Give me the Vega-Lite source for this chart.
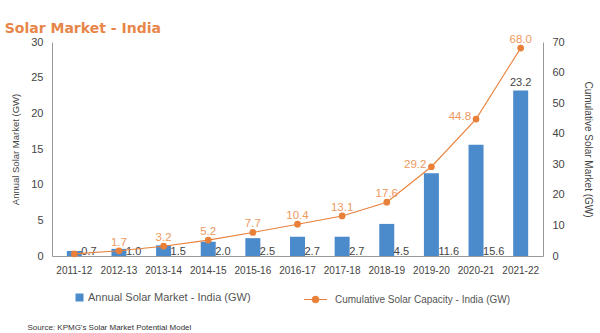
{
  "$schema": "https://vega.github.io/schema/vega-lite/v6.json",
  "width": 491,
  "height": 214,
  "autosize": {"type": "none"},
  "padding": {"left": 52, "top": 42, "right": 57, "bottom": 77},
  "background": "white",
  "title": {
    "text": "Solar Market - India",
    "anchor": "start",
    "frame": "bounds",
    "color": "#E8864A",
    "font": "DejaVu Sans",
    "fontWeight": "bold",
    "fontSize": 14,
    "offset": -2,
    "dx": -6
  },
  "data": {
    "values": [
      {"year": "2011-12", "annual": 0.7, "cumulative": 0.7},
      {"year": "2012-13", "annual": 1.0, "cumulative": 1.7},
      {"year": "2013-14", "annual": 1.5, "cumulative": 3.2},
      {"year": "2014-15", "annual": 2.0, "cumulative": 5.2},
      {"year": "2015-16", "annual": 2.5, "cumulative": 7.7},
      {"year": "2016-17", "annual": 2.7, "cumulative": 10.4},
      {"year": "2017-18", "annual": 2.7, "cumulative": 13.1},
      {"year": "2018-19", "annual": 4.5, "cumulative": 17.6},
      {"year": "2019-20", "annual": 11.6, "cumulative": 29.2},
      {"year": "2020-21", "annual": 15.6, "cumulative": 44.8},
      {"year": "2021-22", "annual": 23.2, "cumulative": 68.0}
    ]
  },
  "encoding": {
    "x": {
      "field": "year",
      "type": "ordinal",
      "scale": {"paddingInner": 0.664, "paddingOuter": 0.332},
      "axis": {
        "title": "Source: KPMG's Solar Market Potential Model",
        "titleX": -25,
        "titleY": 71,
        "titleAlign": "left",
        "titleAnchor": "start",
        "titleBaseline": "middle",
        "titleFontSize": 8,
        "titleFontWeight": "normal",
        "titleColor": "#333",
        "labelAngle": 0,
        "labelPadding": 9,
        "labelFontSize": 10,
        "labelColor": "#444",
        "ticks": false,
        "domainColor": "#999"
      }
    }
  },
  "layer": [
    {
      "layer": [
        {
          "mark": {"type": "bar"},
          "encoding": {
            "y": {
              "field": "annual",
              "type": "quantitative",
              "scale": {"domain": [0, 30], "nice": false},
              "axis": {
                "title": "Annual Solar Market (GW)",
                "values": [0, 5, 10, 15, 20, 25, 30],
                "labelOverlap": false,
                "grid": false,
                "ticks": false,
                "labelPadding": 9,
                "labelFontSize": 11,
                "labelColor": "#444",
                "titleFontSize": 9.5,
                "titleFontWeight": "normal",
                "titleColor": "#444",
                "titlePadding": 10,
                "domainColor": "#999"
              }
            },
            "fill": {
              "datum": "Annual Solar Market - India (GW)",
              "type": "nominal",
              "scale": {"range": ["#4B8BCB"]},
              "legend": {
                "orient": "none",
                "legendX": 22,
                "legendY": 250,
                "title": null,
                "symbolType": "square",
                "symbolSize": 64,
                "symbolStrokeWidth": 0,
                "labelFontSize": 11,
                "labelColor": "#555",
                "labelOffset": 3,
                "labelLimit": 0
              }
            }
          }
        },
        {
          "transform": [{"filter": "datum.year != '2021-22'"}],
          "mark": {"type": "text", "align": "left", "baseline": "alphabetic", "dx": 7, "dy": -1, "fontSize": 11, "color": "#444"},
          "encoding": {
            "y": {
              "datum": 0,
              "type": "quantitative",
              "axis": {
                "title": "Annual Solar Market (GW)",
                "values": [0, 5, 10, 15, 20, 25, 30],
                "labelOverlap": false,
                "grid": false,
                "ticks": false,
                "labelPadding": 9,
                "labelFontSize": 11,
                "labelColor": "#444",
                "titleFontSize": 9.5,
                "titleFontWeight": "normal",
                "titleColor": "#444",
                "titlePadding": 10,
                "domainColor": "#999"
              }
            },
            "text": {"field": "annual", "type": "quantitative", "format": ".1f"}
          }
        },
        {
          "transform": [{"filter": "datum.year == '2021-22'"}],
          "mark": {"type": "text", "align": "center", "baseline": "bottom", "dy": -3, "fontSize": 11, "color": "#444"},
          "encoding": {
            "y": {
              "field": "annual",
              "type": "quantitative",
              "axis": {
                "title": "Annual Solar Market (GW)",
                "values": [0, 5, 10, 15, 20, 25, 30],
                "labelOverlap": false,
                "grid": false,
                "ticks": false,
                "labelPadding": 9,
                "labelFontSize": 11,
                "labelColor": "#444",
                "titleFontSize": 9.5,
                "titleFontWeight": "normal",
                "titleColor": "#444",
                "titlePadding": 10,
                "domainColor": "#999"
              }
            },
            "text": {"field": "annual", "type": "quantitative", "format": ".1f"}
          }
        }
      ]
    },
    {
      "layer": [
        {
          "mark": {"type": "line", "strokeWidth": 1.1},
          "encoding": {
            "y": {
              "field": "cumulative",
              "type": "quantitative",
              "scale": {"domain": [0, 70], "nice": false},
              "axis": {
                "orient": "right",
                "title": "Cumulative Solar Market (GW)",
                "values": [0, 10, 20, 30, 40, 50, 60, 70],
                "labelOverlap": false,
                "grid": false,
                "ticks": false,
                "labelPadding": 9,
                "labelFontSize": 11,
                "labelColor": "#444",
                "titleFontSize": 10,
                "titleFontWeight": "normal",
                "titleColor": "#444",
                "titlePadding": 18,
                "domainColor": "#999"
              }
            },
            "stroke": {
              "datum": "Cumulative Solar Capacity - India (GW)",
              "type": "nominal",
              "scale": {"range": ["#E8803A"]},
              "legend": {
                "orient": "none",
                "legendX": 251,
                "legendY": 245,
                "title": null,
                "symbolType": "M-1,0L1,0M-0.28,0A0.28,0.28 0 1,0 0.28,0A0.28,0.28 0 1,0 -0.28,0",
                "symbolSize": 529,
                "symbolFillColor": "#E8803A",
                "symbolStrokeWidth": 1.2,
                "labelFontSize": 10,
                "labelColor": "#555",
                "labelOffset": 7,
                "labelLimit": 0
              }
            }
          }
        },
        {
          "mark": {"type": "point", "filled": true, "size": 45, "color": "#E8803A", "opacity": 1},
          "encoding": {
            "y": {
              "field": "cumulative",
              "type": "quantitative",
              "axis": {
                "orient": "right",
                "title": "Cumulative Solar Market (GW)",
                "values": [0, 10, 20, 30, 40, 50, 60, 70],
                "labelOverlap": false,
                "grid": false,
                "ticks": false,
                "labelPadding": 9,
                "labelFontSize": 11,
                "labelColor": "#444",
                "titleFontSize": 10,
                "titleFontWeight": "normal",
                "titleColor": "#444",
                "titlePadding": 18,
                "domainColor": "#999"
              }
            }
          }
        },
        {
          "transform": [{"filter": "datum.year != '2011-12' && datum.year != '2019-20' && datum.year != '2020-21'"}],
          "mark": {"type": "text", "align": "center", "baseline": "bottom", "dy": -3, "fontSize": 11.5, "color": "#EE9860"},
          "encoding": {
            "y": {
              "field": "cumulative",
              "type": "quantitative",
              "axis": {
                "orient": "right",
                "title": "Cumulative Solar Market (GW)",
                "values": [0, 10, 20, 30, 40, 50, 60, 70],
                "labelOverlap": false,
                "grid": false,
                "ticks": false,
                "labelPadding": 9,
                "labelFontSize": 11,
                "labelColor": "#444",
                "titleFontSize": 10,
                "titleFontWeight": "normal",
                "titleColor": "#444",
                "titlePadding": 18,
                "domainColor": "#999"
              }
            },
            "text": {"field": "cumulative", "type": "quantitative", "format": ".1f"}
          }
        },
        {
          "transform": [{"filter": "datum.year == '2019-20' || datum.year == '2020-21'"}],
          "mark": {"type": "text", "align": "right", "baseline": "middle", "dx": -5, "dy": -2, "fontSize": 11.5, "color": "#EE9860"},
          "encoding": {
            "y": {
              "field": "cumulative",
              "type": "quantitative",
              "axis": {
                "orient": "right",
                "title": "Cumulative Solar Market (GW)",
                "values": [0, 10, 20, 30, 40, 50, 60, 70],
                "labelOverlap": false,
                "grid": false,
                "ticks": false,
                "labelPadding": 9,
                "labelFontSize": 11,
                "labelColor": "#444",
                "titleFontSize": 10,
                "titleFontWeight": "normal",
                "titleColor": "#444",
                "titlePadding": 18,
                "domainColor": "#999"
              }
            },
            "text": {"field": "cumulative", "type": "quantitative", "format": ".1f"}
          }
        }
      ]
    }
  ],
  "resolve": {"scale": {"y": "independent"}},
  "config": {
    "font": "Liberation Sans",
    "view": {"stroke": null}
  }
}
